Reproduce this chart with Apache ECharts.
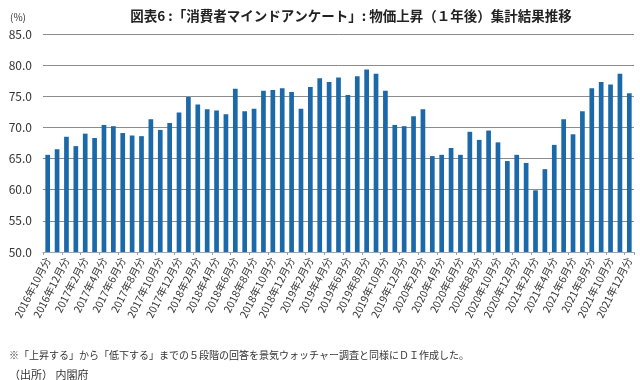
<!DOCTYPE html>
<html><head><meta charset="utf-8">
<script src="https://cdn.jsdelivr.net/npm/echarts@6/dist/echarts.min.js"></script>
<style>html,body{margin:0;padding:0;background:#fff}#c{width:640px;height:380px}</style>
</head><body><div id="c"></div>
<script>
const categories = [
 "2016年10月分","2016年11月分","2016年12月分",
 "2017年1月分","2017年2月分","2017年3月分","2017年4月分","2017年5月分","2017年6月分","2017年7月分","2017年8月分","2017年9月分","2017年10月分","2017年11月分","2017年12月分",
 "2018年1月分","2018年2月分","2018年3月分","2018年4月分","2018年5月分","2018年6月分","2018年7月分","2018年8月分","2018年9月分","2018年10月分","2018年11月分","2018年12月分",
 "2019年1月分","2019年2月分","2019年3月分","2019年4月分","2019年5月分","2019年6月分","2019年7月分","2019年8月分","2019年9月分","2019年10月分","2019年11月分","2019年12月分",
 "2020年1月分","2020年2月分","2020年3月分","2020年4月分","2020年5月分","2020年6月分","2020年7月分","2020年8月分","2020年9月分","2020年10月分","2020年11月分","2020年12月分",
 "2021年1月分","2021年2月分","2021年3月分","2021年4月分","2021年5月分","2021年6月分","2021年7月分","2021年8月分","2021年9月分","2021年10月分","2021年11月分","2021年12月分"
];
const values = [
 65.6,66.5,68.5,
 67.0,69.0,68.3,70.4,70.2,69.1,68.7,68.6,71.3,69.6,70.7,72.4,
 74.9,73.7,72.9,72.7,72.1,76.2,72.6,73.0,75.9,76.0,76.3,75.7,
 73.0,76.5,77.9,77.3,78.0,75.2,78.2,79.3,78.6,75.9,70.4,70.2,
 71.8,72.9,65.4,65.6,66.7,65.6,69.3,68.0,69.5,67.6,64.6,65.6,
 64.3,59.9,63.3,67.2,71.3,68.9,72.6,76.3,77.3,76.9,78.6,75.5
];
const yTicks = {min: 50, max: 85, interval: 5};
const titleText = "図表6 :「消費者マインドアンケート」: 物価上昇（１年後）集計結果推移";
const unitText = "(%)";
const noteText = "※「上昇する」から「低下する」までの５段階の回答を景気ウォッチャー調査と同様にＤＩ作成した。";
const sourceText = "（出所） 内閣府";

const font = '"Noto Sans CJK JP", "Noto Sans", sans-serif';
const chart = echarts.init(document.getElementById('c'), null, {renderer: 'canvas'});
chart.setOption({
  animation: false,
  backgroundColor: '#fff',
  textStyle: {fontFamily: font},
  title: [
    {text: titleText, left: 346, top: 4, textAlign: 'center',
     textStyle: {fontSize: 13.5, fontWeight: 'bold', color: '#222', fontFamily: font}},
    {text: unitText, left: 5, top: 7, textStyle: {fontSize: 10, fontWeight: 'normal', color: '#333', fontFamily: font}},
    {text: noteText, left: 4, top: 345, textStyle: {fontSize: 10, fontWeight: 'normal', color: '#333', fontFamily: font}},
    {text: sourceText, left: 4, top: 364, textStyle: {fontSize: 11, fontWeight: 'normal', color: '#333', fontFamily: font}}
  ],
  grid: {left: 43, right: 6, top: 34, bottom: 128, containLabel: false},
  xAxis: {
    type: 'category',
    data: categories,
    axisLine: {show: true, lineStyle: {color: '#9aa5b5', width: 1}},
    axisTick: {show: true, length: 3, lineStyle: {color: '#8fa0b8'}},
    axisLabel: {interval: 1, rotate: 63, fontSize: 10.5, color: '#333', margin: 6, fontFamily: font}
  },
  yAxis: {
    type: 'value',
    min: yTicks.min, max: yTicks.max, interval: yTicks.interval,
    axisLine: {show: false}, axisTick: {show: false},
    axisLabel: {formatter: v => v.toFixed(1), fontSize: 12, color: '#333', margin: 11, fontFamily: font},
    splitLine: {lineStyle: {color: '#8c8c8c', width: 1}}
  },
  series: [{
    type: 'bar',
    data: values,
    barWidth: '50%',
    itemStyle: {color: '#1b69a8'}
  }]
});
</script></body></html>
